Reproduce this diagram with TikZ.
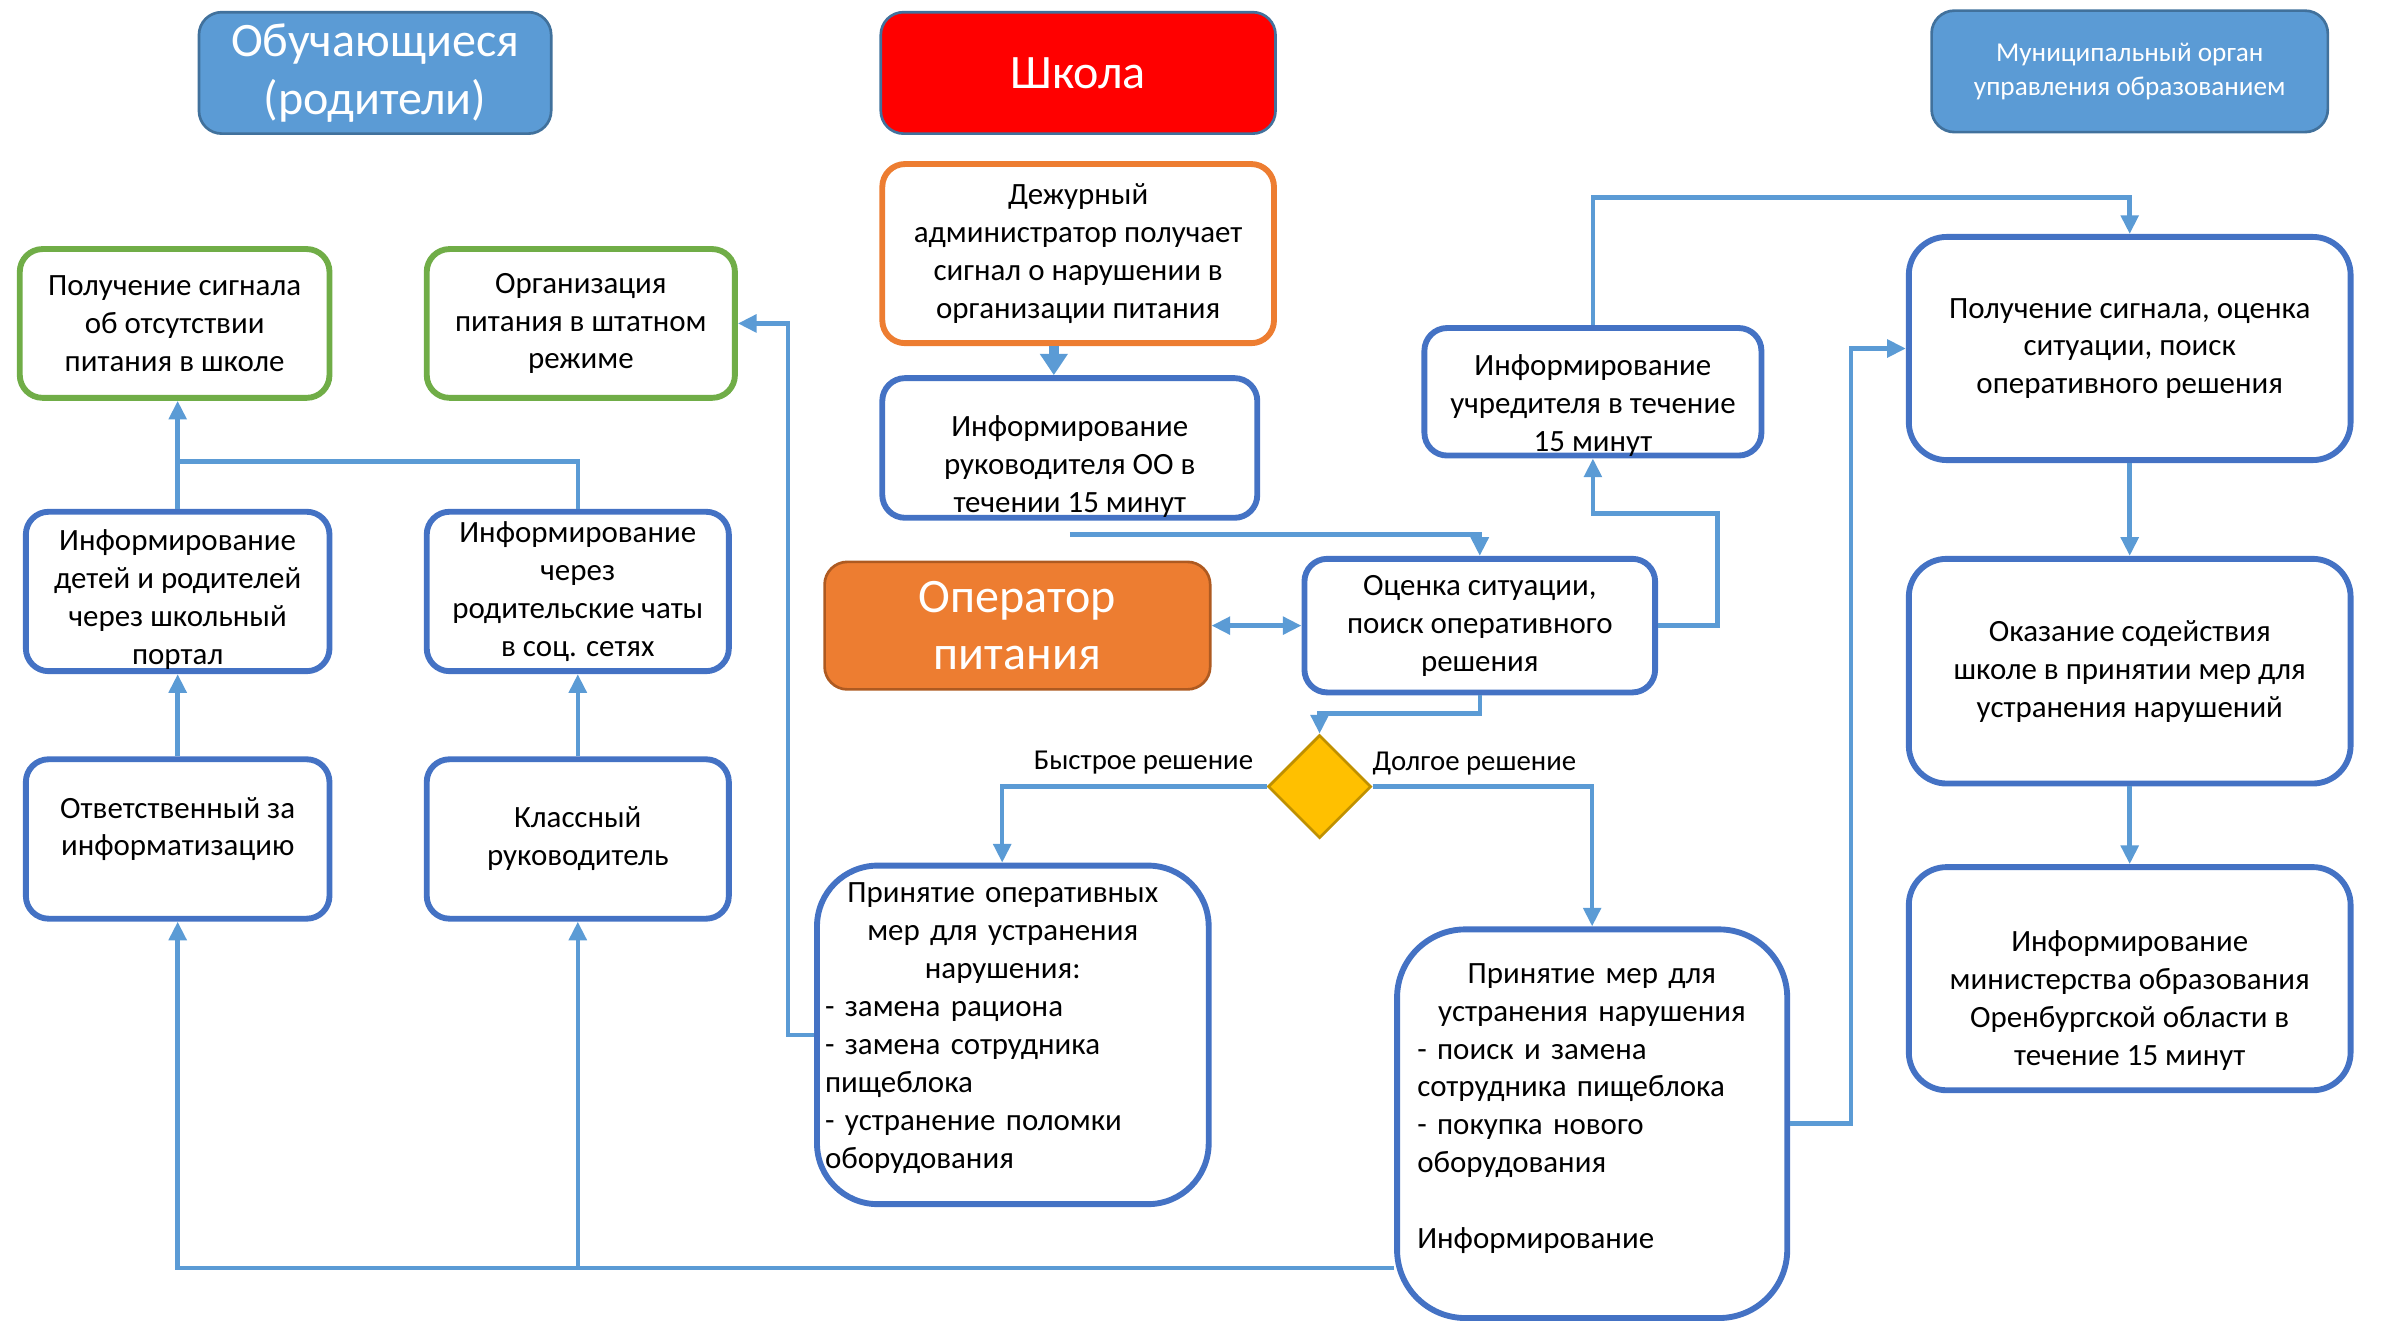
\documentclass[tikz,border=0pt]{standalone}
\usepackage{fontspec}
\setmainfont{Carlito}
\usetikzlibrary{arrows.meta,shapes.geometric}

\definecolor{lineblue}{HTML}{5B9BD5}
\definecolor{boxblue}{HTML}{4472C4}
\definecolor{headblue}{HTML}{5B9BD5}
\definecolor{headedge}{HTML}{41719C}
\definecolor{okgreen}{HTML}{70AD47}
\definecolor{opsorange}{HTML}{ED7D31}
\definecolor{opsedge}{HTML}{AE5A21}
\definecolor{diamfill}{HTML}{FFC000}
\definecolor{diamedge}{HTML}{BF9000}

\begin{document}
\begin{tikzpicture}[x=0.02cm,y=-0.02cm,
  head/.style={draw=headedge,line width=1pt,rounded corners=0.3cm,inner sep=0pt,align=center,text=white,font=\fontsize{18}{21.6}\selectfont},
  bbox/.style={draw=boxblue,line width=2.2pt,fill=white,rounded corners=0.3cm,inner sep=0pt,align=center,font=\fontsize{11.6}{14.2}\selectfont},
  gbox/.style={bbox,draw=okgreen},
  obox/.style={bbox,draw=opsorange},
  txt/.style={inner sep=0pt,align=center,font=\fontsize{11.6}{14.2}\selectfont},
  lbltxt/.style={inner sep=0pt,font=\fontsize{10.8}{13}\selectfont},
  link/.style={draw=lineblue,line width=1.7pt,-{Triangle[length=7pt,width=6.5pt]}},
  wire/.style={draw=lineblue,line width=1.7pt},
  fatlink/.style={draw=lineblue,line width=3.5pt,-{Triangle[length=8pt,width=10pt]}},
]
\useasboundingbox (0,0) rectangle (1568,873);

\node[head,fill=headblue,minimum width=4.64cm,minimum height=1.6cm] (obuch) at (247,48) {Обучающиеся\\(родители)};
\node[head,fill=red,minimum width=5.2cm,minimum height=1.6cm] (shkola) at (710,48) {Школа};
\node[head,fill=headblue,minimum width=5.22cm,minimum height=1.6cm,font=\fontsize{10.2}{12.5}\selectfont] (mun) at (1402.5,47) {Муниципальный орган\\управления образованием};

\node[gbox,minimum width=4.08cm,minimum height=1.96cm] (signal) at (115,213) {Получение сигнала\\об отсутствии\\питания в школе};
\node[gbox,minimum width=4.06cm,minimum height=1.96cm] (org) at (382.5,213) {Организация\\питания в штатном\\режиме};
\node[bbox,minimum width=4cm,minimum height=2.1cm] (portal) at (117,389.5) {};
\node[txt] (portal-t) at (117,395) {Информирование\\детей и родителей\\через школьный\\портал};
\node[bbox,minimum width=3.98cm,minimum height=2.1cm] (chaty) at (380.5,389.5) {Информирование\\через\\родительские чаты\\в соц. сетях};
\node[bbox,minimum width=4cm,minimum height=2.1cm] (otv) at (117,552.5) {};
\node[txt] (otv-t) at (117,546) {Ответственный за\\информатизацию};
\node[bbox,minimum width=3.98cm,minimum height=2.1cm] (klass) at (380.5,552.5) {Классный\\руководитель};

\node[obox,minimum width=5.16cm,minimum height=2.36cm] (dezh) at (710,167) {Дежурный\\администратор получает\\сигнал о нарушении в\\организации питания};
\node[bbox,minimum width=4.94cm,minimum height=1.84cm] (ruk) at (704.5,295) {};
\node[txt] (ruk-t) at (704.5,307) {Информирование\\руководителя ОО в\\течении 15 минут};
\node[head,fill=opsorange,draw=opsedge,minimum width=5.08cm,minimum height=1.68cm] (oper) at (670,412) {Оператор\\питания};
\node[bbox,minimum width=4.62cm,minimum height=1.76cm] (ocenka) at (974.5,412) {Оценка ситуации,\\поиск оперативного\\решения};
\node[bbox,minimum width=4.44cm,minimum height=1.68cm] (uchr) at (1049,258) {};
\node[txt] (uchr-t) at (1049,267) {Информирование\\учредителя в течение\\15 минут};

\node[diamond,draw=diamedge,fill=diamfill,line width=1pt,minimum width=1.36cm,minimum height=1.36cm,inner sep=0pt] (dia) at (869,518) {};
\node[lbltxt] (fast) at (753,502) {Быстрое решение};
\node[lbltxt] (slow) at (971,503) {Долгое решение};

\node[bbox,rounded corners=0.8cm,minimum width=5.16cm,minimum height=4.46cm] (bystr) at (667,681.5) {};
\node[txt,align=left,text width=4.68cm,anchor=west] (bystr-t) at (543,677) {\makebox[\linewidth]{Принятие оперативных}\\\makebox[\linewidth]{мер для устранения}\\\makebox[\linewidth]{нарушения:}\\- замена рациона\\- замена сотрудника\\пищеблока\\- устранение поломки\\оборудования};
\node[bbox,rounded corners=0.9cm,minimum width=5.14cm,minimum height=5.12cm] (dolg) at (1048.5,740) {};
\node[txt,align=left,text width=4.6cm,anchor=west] (dolg-t) at (933,730) {\makebox[\linewidth]{Принятие мер для}\\\makebox[\linewidth]{устранения нарушения}\\- поиск и замена\\сотрудника пищеблока\\- покупка нового\\оборудования\\[14.2pt]Информирование};

\node[bbox,rounded corners=0.5cm,minimum width=5.82cm,minimum height=2.94cm] (mpoluch) at (1402.5,229.5) {Получение сигнала, оценка\\ситуации, поиск\\оперативного решения};
\node[bbox,rounded corners=0.5cm,minimum width=5.82cm,minimum height=2.96cm] (sodeist) at (1402.5,442) {Оказание содействия\\школе в принятии мер для\\устранения нарушений};
\node[bbox,rounded corners=0.5cm,minimum width=5.82cm,minimum height=2.94cm] (minist) at (1402.5,644.5) {};
\node[txt] (minist-t) at (1402.5,659) {Информирование\\министерства образования\\Оренбургской области в\\течение 15 минут};

\coordinate (c1) at (694,240);
\coordinate (k1) at (1131,338);
\coordinate (k2) at (1200,130);
\coordinate (k3) at (920,470);
\coordinate (k4) at (660,518);
\coordinate (k5) at (519,213);
\coordinate (k7) at (117,835);
\coordinate (k9) at (250,304);

\draw[fatlink] (c1 |- dezh.south) -- (c1 |- ruk.north);
\draw[link] ([yshift=-0.18cm]ruk.south) -| (ocenka.north);
\draw[link,{Triangle[length=7pt,width=6.5pt]}-{Triangle[length=7pt,width=6.5pt]}] (oper.east) -- (ocenka.west);
\draw[link] (ocenka.east) -| (k1) -| (uchr.south);
\draw[link] (uchr.north) |- (k2) -| (mpoluch.north);
\draw[link] (mpoluch.south) -- (sodeist.north);
\draw[link] (sodeist.south) -- (minist.north);
\draw[link] (ocenka.south) |- (k3) -| (dia.north);
\draw[link] (dia.west) -- (k4) -- (k4 |- bystr.north);
\draw[link] (dia.east) -| (dolg.north);
\draw[link] (bystr.west) -| (k5) -- (org.east);
\draw[link] (dolg.east) -- ++(0.8cm,0) |- (mpoluch.west);
\draw[link] (dolg.west |- k7) -- (k7) -- (otv.south);
\draw[link] (klass.south |- k7) -- (klass.south);
\draw[link] (otv.north) -- (portal.south);
\draw[link] (klass.north) -- (chaty.south);
\draw[link] (portal.north) -- (portal.north |- signal.south);
\draw[wire] (chaty.north) |- (k9 -| portal.north);
\end{tikzpicture}
\end{document}
